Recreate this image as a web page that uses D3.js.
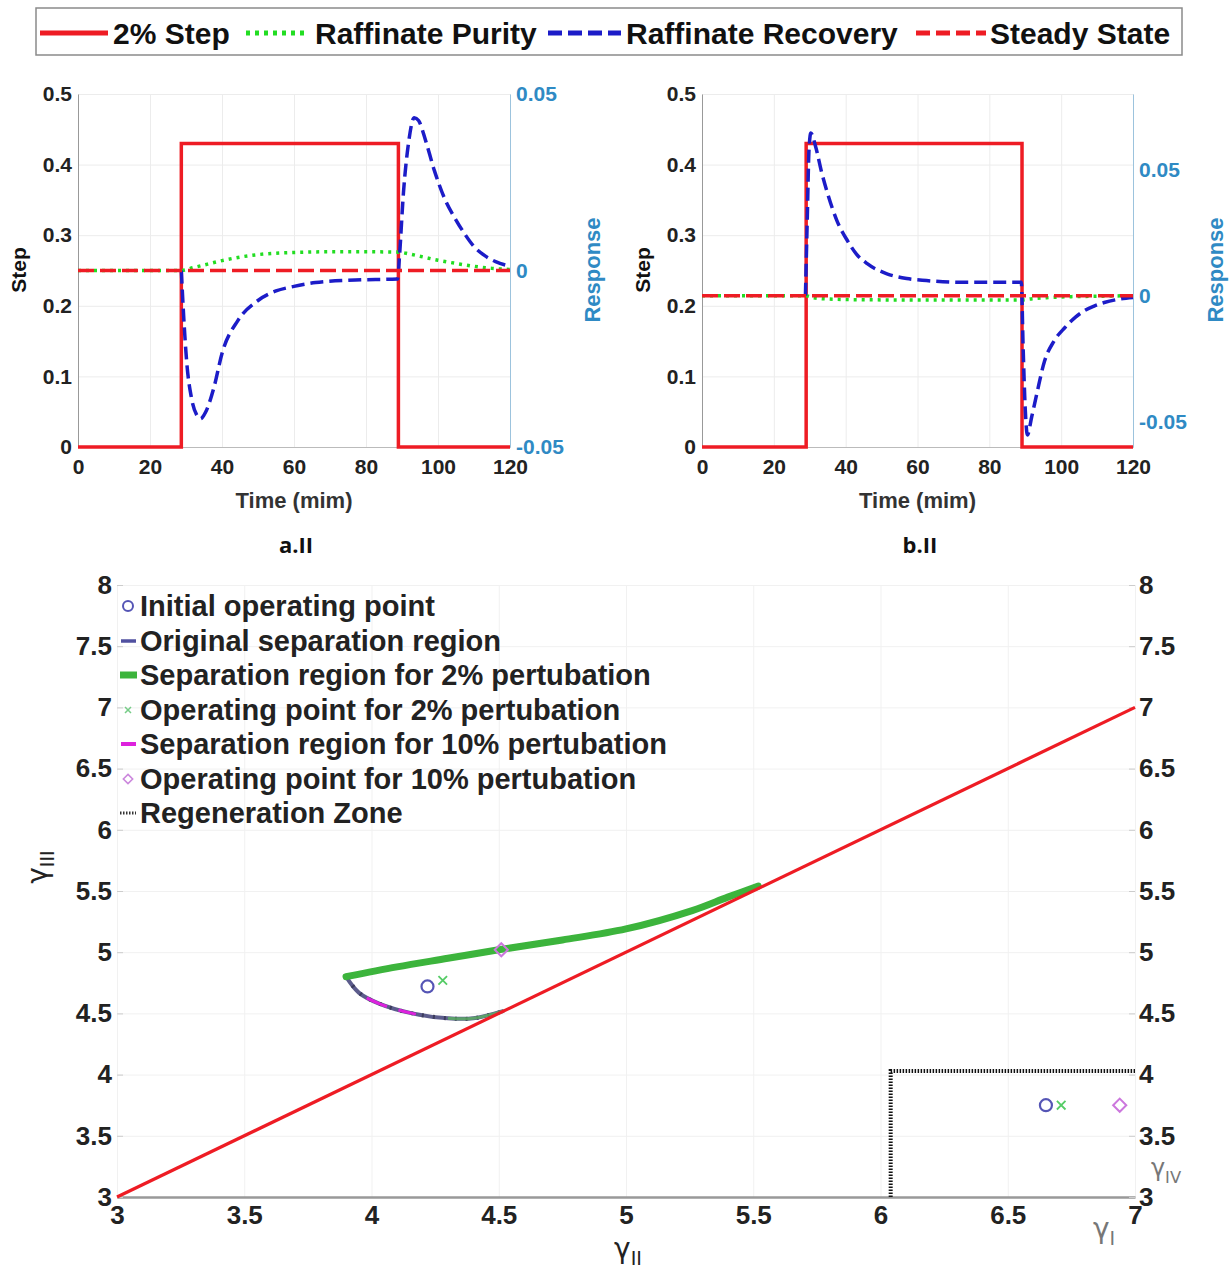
<!DOCTYPE html>
<html>
<head>
<meta charset="utf-8">
<script src="https://cdn.jsdelivr.net/npm/d3@7"></script>
<style>
  body { margin: 0; background: #fff; }
  svg { display: block; }
</style>
</head>
<body>
<script>
// ---- data: step response panels ----
const timeTicks = [0, 20, 40, 60, 80, 100, 120];
const stepTicks = [0, 0.1, 0.2, 0.3, 0.4, 0.5];

const stepATime = [0, 28.7, 28.7, 89, 89, 120];
const stepAValue = [0, 0, 0.43, 0.43, 0, 0];
const stepBTime = [0, 29, 29, 89.1, 89.1, 120];
const stepBValue = [0, 0, 0.43, 0.43, 0, 0];

const steadyTime = [0, 120];
const steadyValue = [0, 0];

const purityATime = [0, 28.7, 32, 36, 40, 45, 50, 55, 60, 70, 80, 89, 92, 96, 100, 105, 110, 115, 120];
const purityAValue = [0, 0, 0.0008, 0.0018, 0.0028, 0.0038, 0.0045, 0.0049, 0.0051, 0.0053, 0.0053, 0.0052, 0.0047, 0.0038, 0.0029, 0.002, 0.0012, 0.0006, 0.0003];

const recoveryATime = [28.7, 29.3, 30.2, 31.5, 33, 34, 35.5, 37.8, 40, 44.4, 50, 55, 60, 66, 77, 88.8, 89.3, 90.4, 91.8, 93.4, 94.6, 96.5, 99, 102, 104.6, 107, 110, 113, 116, 120];
const recoveryAValue = [0, -0.012, -0.026, -0.036, -0.041, -0.042, -0.040, -0.033, -0.0235, -0.0142, -0.0085, -0.0058, -0.0045, -0.0034, -0.0027, -0.0024, 0.004, 0.022, 0.036, 0.0433, 0.0425, 0.037, 0.0283, 0.020, 0.015, 0.011, 0.0068, 0.0042, 0.0025, 0.0012];

const purityBTime = [0, 28.8, 31, 35, 45, 60, 89, 92, 96, 100, 110, 120];
const purityBValue = [0, 0, -0.0008, -0.0013, -0.0016, -0.0017, -0.0017, -0.0012, -0.0008, -0.0005, -0.0002, 0];

const recoveryBTime = [28.8, 29.3, 29.8, 30.3, 31.7, 33.3, 35, 37.5, 40.5, 43, 46, 51.5, 57, 62.5, 73, 88.9, 89.4, 90, 90.6, 91.8, 93.2, 95.4, 98, 101, 104, 106.4, 109, 112, 116, 120];
const recoveryBValue = [0, 0.03, 0.058, 0.0645, 0.0588, 0.049, 0.0404, 0.030, 0.0218, 0.0165, 0.0127, 0.0087, 0.0068, 0.006, 0.0053, 0.0053, -0.02, -0.045, -0.0552, -0.048, -0.039, -0.0258, -0.018, -0.0127, -0.0085, -0.006, -0.0042, -0.0027, -0.0014, -0.0007];

// ---- data: separation region chart ----
const gammaTicks = [3, 3.5, 4, 4.5, 5, 5.5, 6, 6.5, 7];
const gammaYTicks = [3, 3.5, 4, 4.5, 5, 5.5, 6, 6.5, 7, 7.5, 8];

const diagX = [3, 7];
const diagY = [3, 7];

const sep2UpperX = [3.9, 4.1, 4.3, 4.5, 4.75, 5.0, 5.26, 5.4, 5.52];
const sep2UpperY = [4.8, 4.88, 4.95, 5.02, 5.1, 5.19, 5.34, 5.45, 5.54];
const sepLowerX = [3.9, 3.95, 4.03, 4.16, 4.3, 4.4, 4.52];
const sepLowerY = [4.8, 4.67, 4.58, 4.5, 4.46, 4.46, 4.52];

const regenX = [6.04, 6.04, 7];
const regenY = [3, 4.03, 4.03];

const initPointX = [4.22, 6.65];
const initPointY = [4.72, 3.75];
const op2PointX = [4.28, 6.71];
const op2PointY = [4.77, 3.75];
const op10PointX = [4.51, 6.94];
const op10PointY = [5.02, 3.75];

const topLegend = ['2% Step', 'Raffinate Purity', 'Raffinate Recovery', 'Steady State'];
const bottomLegend = ['Initial operating point', 'Original separation region', 'Separation region for 2% pertubation',
  'Operating point for 2% pertubation', 'Separation region for 10% pertubation', 'Operating point for 10% pertubation',
  'Regeneration Zone'];

const font = "'Liberation Sans', Arial, sans-serif";
const RED = '#ee1c24', GREEN = '#22dd22', BLUE = '#1c1cc8', RESP = '#2f8ac4';

const svg = d3.select('body').append('svg')
  .attr('width', 1230).attr('height', 1274)
  .style('font-family', font);

const zip = (a, b) => a.map((v, i) => [v, b[i]]);
const hyphen = s => s.replace('\u2212', '-');

// ---- top legend ----
svg.append('rect').attr('x', 36).attr('y', 8).attr('width', 1146).attr('height', 47)
  .attr('fill', '#fff').attr('stroke', '#8a8a8a').attr('stroke-width', 1.5);
const legItems = [
  { x1: 40, x2: 108, tx: 113, color: RED, dash: null },
  { x1: 246, x2: 306, tx: 315, color: GREEN, dash: '4,5' },
  { x1: 548, x2: 621, tx: 626, color: BLUE, dash: '14,6' },
  { x1: 916, x2: 986, tx: 990, color: RED, dash: '14,6' }
];
legItems.forEach((d, i) => {
  svg.append('line').attr('x1', d.x1).attr('x2', d.x2).attr('y1', 33).attr('y2', 33)
    .attr('stroke', d.color).attr('stroke-width', 5).attr('stroke-dasharray', d.dash);
  svg.append('text').attr('x', d.tx).attr('y', 33).attr('dy', '0.36em')
    .attr('font-size', 30).attr('font-weight', 'bold').attr('fill', '#111').text(topLegend[i]);
});

// ---- step response panels ----
function drawPanel(p) {
  const top = 94, bottom = 447;
  const x = d3.scaleLinear().domain([0, 120]).range([p.left, p.right]);
  const yL = d3.scaleLinear().domain([0, 0.5]).range([bottom, top]);
  const yR = d3.scaleLinear().domain(p.rDomain).range([bottom, top]);
  const g = svg.append('g');

  // grid
  g.append('g').attr('transform', `translate(0,${bottom})`)
    .call(d3.axisBottom(x).tickValues(timeTicks).tickSize(-(bottom - top)).tickFormat(''))
    .call(s => s.select('.domain').remove())
    .selectAll('line').attr('stroke', '#ececec');
  g.append('g').attr('transform', `translate(${p.left},0)`)
    .call(d3.axisLeft(yL).tickValues(stepTicks).tickSize(-(p.right - p.left)).tickFormat(''))
    .call(s => s.select('.domain').remove())
    .selectAll('line').attr('stroke', '#ececec');

  // axes
  const xAx = g.append('g').attr('transform', `translate(0,${bottom})`)
    .call(d3.axisBottom(x).tickValues(timeTicks).tickSize(0).tickPadding(12));
  xAx.select('.domain').attr('stroke', '#bbb');
  xAx.selectAll('text').attr('font-size', 21).attr('font-weight', 'bold').attr('fill', '#222').attr('font-family', font);

  const yAx = g.append('g').attr('transform', `translate(${p.left},0)`)
    .call(d3.axisLeft(yL).tickValues(stepTicks).tickSize(0).tickPadding(6).tickFormat(d => d === 0 ? '0' : d3.format('.1f')(d)));
  yAx.select('.domain').attr('stroke', '#999');
  yAx.selectAll('text').attr('font-size', 21).attr('font-weight', 'bold').attr('fill', '#222').attr('font-family', font);

  const rAx = g.append('g').attr('transform', `translate(${p.right},0)`)
    .call(d3.axisRight(yR).tickValues(p.rTicks).tickSize(0).tickPadding(6)
      .tickFormat(d => d === 0 ? '0' : hyphen(d3.format('.2f')(d))));
  rAx.select('.domain').attr('stroke', '#9cc3dd');
  rAx.selectAll('text').attr('font-size', 21).attr('font-weight', 'bold').attr('fill', RESP).attr('font-family', font);

  // axis titles
  g.append('text').attr('transform', `translate(${p.left - 52},270) rotate(-90)`).attr('text-anchor', 'middle')
    .attr('font-size', 21).attr('font-weight', 'bold').attr('fill', '#111').text('Step');
  g.append('text').attr('transform', `translate(${p.right + 90},270) rotate(-90)`).attr('text-anchor', 'middle')
    .attr('font-size', 22).attr('font-weight', 'bold').attr('fill', RESP).text('Response');
  g.append('text').attr('x', (p.left + p.right) / 2).attr('y', 508).attr('text-anchor', 'middle')
    .attr('font-size', 22).attr('font-weight', 'bold').attr('fill', '#333').text('Time (mim)');

  const lineL = d3.line().x(d => x(d[0])).y(d => yL(d[1]));
  const lineR = d3.line().x(d => x(d[0])).y(d => yR(d[1])).curve(d3.curveMonotoneX);

  g.append('path').datum(zip(p.stepT, p.stepV)).attr('d', lineL)
    .attr('fill', 'none').attr('stroke', RED).attr('stroke-width', 3.5);
  g.append('path').datum(zip(p.purT, p.purV)).attr('d', lineR)
    .attr('fill', 'none').attr('stroke', GREEN).attr('stroke-width', 3.5).attr('stroke-dasharray', '3,5');
  g.append('path').datum(zip(p.recT, p.recV)).attr('d', lineR)
    .attr('fill', 'none').attr('stroke', BLUE).attr('stroke-width', 3.5).attr('stroke-dasharray', '13,6');
  g.append('path').datum(zip(steadyTime, steadyValue)).attr('d', lineR)
    .attr('fill', 'none').attr('stroke', RED).attr('stroke-width', 3.5).attr('stroke-dasharray', '16,6');

  g.append('text').attr('x', p.labelX).attr('y', 553).attr('text-anchor', 'middle')
    .attr('font-family', "'Open Sans', sans-serif").attr('font-size', 22).attr('font-weight', 'bold')
    .attr('fill', '#111').text(p.label);
}

drawPanel({
  left: 78, right: 510, rDomain: [-0.05, 0.05], rTicks: [-0.05, 0, 0.05],
  stepT: stepATime, stepV: stepAValue, purT: purityATime, purV: purityAValue,
  recT: recoveryATime, recV: recoveryAValue, label: 'a.II', labelX: 296
});
drawPanel({
  left: 702, right: 1133, rDomain: [-0.06, 0.08], rTicks: [-0.05, 0, 0.05],
  stepT: stepBTime, stepV: stepBValue, purT: purityBTime, purV: purityBValue,
  recT: recoveryBTime, recV: recoveryBValue, label: 'b.II', labelX: 920
});

// ---- separation region chart ----
const gx = d3.scaleLinear().domain([3, 7]).range([117, 1135]);
const gy = d3.scaleLinear().domain([3, 8]).range([1197, 585]);
const sg = svg.append('g');

sg.append('g').attr('transform', 'translate(0,1197)')
  .call(d3.axisBottom(gx).tickValues(gammaTicks).tickSize(-(1197 - 585)).tickFormat(''))
  .call(s => s.select('.domain').remove())
  .selectAll('line').attr('stroke', '#f1f1f1');
sg.append('g').attr('transform', 'translate(117,0)')
  .call(d3.axisLeft(gy).tickValues(gammaYTicks).tickSize(-(1135 - 117)).tickFormat(''))
  .call(s => s.select('.domain').remove())
  .selectAll('line').attr('stroke', '#f1f1f1');

const fmtG = d => Number.isInteger(d) ? String(d) : d.toFixed(1);
const bx = sg.append('g').attr('transform', 'translate(0,1197)')
  .call(d3.axisBottom(gx).tickValues(gammaTicks).tickSize(0).tickPadding(9).tickFormat(fmtG));
bx.select('.domain').attr('stroke', '#999').attr('stroke-width', 2.5);
bx.selectAll('text').attr('font-size', 26).attr('font-weight', 'bold').attr('fill', '#222').attr('font-family', font);

const ly = sg.append('g').attr('transform', 'translate(117,0)')
  .call(d3.axisLeft(gy).tickValues(gammaYTicks).tickSize(-6).tickPadding(5).tickFormat(fmtG));
ly.select('.domain').remove();
ly.selectAll('line').attr('stroke', '#ccc');
ly.selectAll('text').attr('font-size', 26).attr('font-weight', 'bold').attr('fill', '#222').attr('font-family', font);

const ry = sg.append('g').attr('transform', 'translate(1135,0)')
  .call(d3.axisRight(gy).tickValues(gammaYTicks).tickSize(-6).tickPadding(4).tickFormat(fmtG));
ry.select('.domain').remove();
ry.selectAll('line').attr('stroke', '#ccc');
ry.selectAll('text').attr('font-size', 26).attr('font-weight', 'bold').attr('fill', '#222').attr('font-family', font);

const gline = d3.line().x(d => gx(d[0])).y(d => gy(d[1]));
const gcurve = d3.line().x(d => gx(d[0])).y(d => gy(d[1])).curve(d3.curveCatmullRom);

// regeneration zone
sg.append('path').datum(zip(regenX, regenY)).attr('d', gline)
  .attr('fill', 'none').attr('stroke', '#111').attr('stroke-width', 4).attr('stroke-dasharray', '1.5,1.5');

// original separation region (lower branch)
sg.append('path').datum(zip(sepLowerX, sepLowerY)).attr('d', gcurve)
  .attr('fill', 'none').attr('stroke', '#5c5c8c').attr('stroke-width', 4);
sg.append('path').datum(zip(sepLowerX, sepLowerY)).attr('d', gcurve)
  .attr('fill', 'none').attr('stroke', '#3c3c5c').attr('stroke-width', 4).attr('stroke-dasharray', '2,9');
// 2% region
sg.append('path').datum(zip(sep2UpperX, sep2UpperY)).attr('d', gcurve)
  .attr('fill', 'none').attr('stroke', '#3cb43c').attr('stroke-width', 7).attr('stroke-linecap', 'round');
sg.append('path').datum(zip(sepLowerX.slice(4), sepLowerY.slice(4))).attr('d', gcurve)
  .attr('fill', 'none').attr('stroke', '#5cbf5c').attr('stroke-width', 3).attr('opacity', 0.7);
// 10% region
sg.append('path').datum(zip(sepLowerX, sepLowerY)).attr('d', gcurve)
  .attr('fill', 'none').attr('stroke', '#dd22dd').attr('stroke-width', 3).attr('stroke-dasharray', '0,30,22,12,18,200');

// diagonal
sg.append('path').datum(zip(diagX, diagY)).attr('d', gline)
  .attr('fill', 'none').attr('stroke', RED).attr('stroke-width', 3.2);

// operating points
sg.selectAll('.init').data(zip(initPointX, initPointY)).enter().append('circle')
  .attr('cx', d => gx(d[0])).attr('cy', d => gy(d[1])).attr('r', 6)
  .attr('fill', 'none').attr('stroke', '#5555b5').attr('stroke-width', 2.2);
const cross = d3.symbol().type(d3.symbolX).size(50);
sg.selectAll('.op2').data(zip(op2PointX, op2PointY)).enter().append('path')
  .attr('transform', d => `translate(${gx(d[0])},${gy(d[1])})`).attr('d', cross)
  .attr('fill', 'none').attr('stroke', '#55cc66').attr('stroke-width', 1.8);
const diamond = d3.symbol().type(d3.symbolDiamond2).size(110);
sg.selectAll('.op10').data(zip(op10PointX, op10PointY)).enter().append('path')
  .attr('transform', d => `translate(${gx(d[0])},${gy(d[1])})`).attr('d', diamond)
  .attr('fill', 'none').attr('stroke', '#cc77dd').attr('stroke-width', 2);

// bottom legend
const rowY = [606, 641, 675, 710, 744, 779, 813];
bottomLegend.forEach((t, i) => {
  const y = rowY[i];
  if (i === 0) sg.append('circle').attr('cx', 128).attr('cy', y).attr('r', 5).attr('fill', 'none').attr('stroke', '#5555b5').attr('stroke-width', 2);
  if (i === 1) sg.append('line').attr('x1', 121).attr('x2', 136).attr('y1', y).attr('y2', y).attr('stroke', '#5050a0').attr('stroke-width', 3.5);
  if (i === 2) sg.append('line').attr('x1', 120).attr('x2', 137).attr('y1', y).attr('y2', y).attr('stroke', '#3cb43c').attr('stroke-width', 7);
  if (i === 3) sg.append('path').attr('transform', `translate(128,${y})`).attr('d', d3.symbol().type(d3.symbolX).size(25)).attr('stroke', '#77cc88').attr('stroke-width', 1.5);
  if (i === 4) sg.append('line').attr('x1', 121).attr('x2', 136).attr('y1', y).attr('y2', y).attr('stroke', '#dd22dd').attr('stroke-width', 4);
  if (i === 5) sg.append('path').attr('transform', `translate(128,${y})`).attr('d', d3.symbol().type(d3.symbolDiamond2).size(55)).attr('fill', 'none').attr('stroke', '#cc88dd').attr('stroke-width', 1.6);
  if (i === 6) sg.append('line').attr('x1', 120).attr('x2', 136).attr('y1', y).attr('y2', y).attr('stroke', '#333').attr('stroke-width', 3).attr('stroke-dasharray', '1.5,1.5');
  sg.append('text').attr('x', 140).attr('y', y).attr('dy', '0.36em')
    .attr('font-size', 29).attr('font-weight', 'bold').attr('fill', '#222').text(t);
});

// gamma axis titles
function gammaLabel(x, y, sub, color, rotate, size) {
  const t = sg.append('text').attr('transform', `translate(${x},${y})${rotate ? ' rotate(-90)' : ''}`)
    .attr('text-anchor', 'middle').attr('font-family', "'DejaVu Sans', sans-serif").attr('fill', color);
  t.append('tspan').attr('font-size', size).text('γ');
  t.append('tspan').attr('font-size', size * 0.68).attr('dy', 7).text(sub);
}
gammaLabel(628, 1258, 'II', '#222', false, 28);
gammaLabel(47, 867, 'III', '#222', true, 28);
gammaLabel(1104, 1238, 'I', '#777', false, 28);
gammaLabel(1166, 1176, 'IV', '#777', false, 24);
</script>
</body>
</html>
